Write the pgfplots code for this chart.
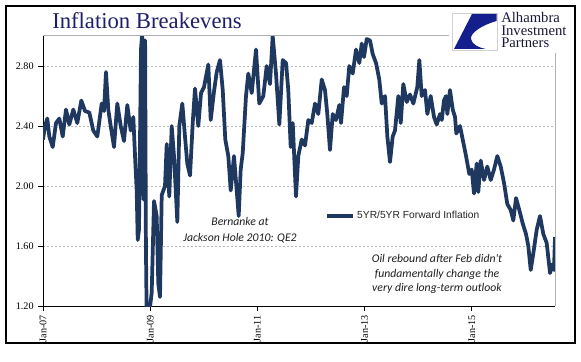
\documentclass[border=0pt]{standalone}
\usepackage{pgfplots}
\pgfplotsset{compat=1.18}
\usepackage{fontspec}
\setmainfont{Liberation Serif}
\newfontfamily\sansf{Liberation Sans}
\newfontfamily\carl{Carlito}
\definecolor{navyline}{RGB}{31,56,96}
\definecolor{titlecol}{RGB}{30,30,105}
\definecolor{logocol}{RGB}{25,25,55}
\definecolor{logoblue}{RGB}{20,30,140}
\pgfplotstableread{
x y
0.000 2.31
0.037 2.40
0.080 2.45
0.118 2.33
0.181 2.26
0.243 2.42
0.304 2.45
0.368 2.33
0.429 2.51
0.491 2.41
0.565 2.51
0.640 2.42
0.715 2.57
0.784 2.50
0.864 2.49
0.938 2.37
1.013 2.33
1.095 2.55
1.138 2.50
1.175 2.76
1.218 2.51
1.263 2.40
1.325 2.26
1.386 2.55
1.450 2.40
1.511 2.30
1.573 2.54
1.636 2.37
1.685 2.46
1.722 2.16
1.748 1.97
1.767 1.64
1.791 1.71
1.810 2.31
1.828 2.91
1.847 3.00
1.862 2.97
1.875 1.91
1.890 2.96
1.905 2.97
1.920 1.60
1.935 1.10
1.965 1.10
1.983 1.15
2.028 1.29
2.071 1.90
2.121 1.80
2.151 1.35
2.183 1.26
2.215 1.94
2.276 2.00
2.308 2.28
2.356 1.93
2.401 2.40
2.444 2.20
2.506 1.76
2.543 2.40
2.599 2.55
2.649 2.33
2.692 2.15
2.743 2.07
2.793 2.42
2.836 2.65
2.897 2.40
2.948 2.62
3.004 2.66
3.084 2.81
3.129 2.44
3.190 2.63
3.241 2.76
3.302 2.84
3.353 2.64
3.401 2.31
3.457 2.20
3.502 1.97
3.563 2.20
3.614 1.97
3.651 1.80
3.688 2.11
3.726 2.22
3.787 2.60
3.830 2.75
3.894 2.62
3.974 2.91
4.035 2.55
4.110 2.60
4.173 2.80
4.235 2.68
4.285 3.00
4.347 2.75
4.409 2.41
4.472 2.84
4.534 2.82
4.576 2.64
4.621 2.26
4.659 2.42
4.720 1.93
4.763 2.20
4.826 2.31
4.888 2.27
4.950 2.44
5.013 2.42
5.075 2.55
5.136 2.48
5.200 2.71
5.261 2.64
5.304 2.48
5.354 2.24
5.405 2.48
5.466 2.44
5.528 2.54
5.560 2.42
5.616 2.66
5.666 2.60
5.714 2.80
5.778 2.75
5.840 2.91
5.901 2.82
5.946 2.95
5.989 2.86
6.039 2.98
6.101 2.97
6.151 2.88
6.213 2.82
6.274 2.71
6.319 2.55
6.381 2.60
6.424 2.33
6.474 2.16
6.524 2.33
6.567 2.37
6.629 2.60
6.674 2.42
6.722 2.68
6.786 2.56
6.847 2.61
6.909 2.55
6.983 2.66
7.021 2.84
7.065 2.60
7.127 2.64
7.170 2.48
7.233 2.60
7.295 2.46
7.345 2.41
7.407 2.48
7.440 2.44
7.480 2.57
7.519 2.60
7.543 2.48
7.593 2.64
7.644 2.51
7.687 2.46
7.711 2.35
7.780 2.40
7.830 2.31
7.892 2.20
7.953 2.08
7.998 2.11
8.041 1.95
8.091 2.15
8.121 1.96
8.166 2.17
8.228 2.04
8.289 2.13
8.353 2.04
8.414 2.11
8.476 2.20
8.539 2.13
8.601 2.02
8.662 1.88
8.726 1.84
8.774 1.77
8.825 1.92
8.886 1.84
8.950 1.75
9.011 1.68
9.054 1.60
9.099 1.44
9.147 1.55
9.211 1.71
9.272 1.80
9.334 1.68
9.397 1.62
9.459 1.42
9.509 1.48
9.533 1.44
9.552 1.66
}\bei
\begin{document}
\begin{tikzpicture}[x=0.75pt,y=0.75pt]
\useasboundingbox (0,0) rectangle (581,361);
\fill[white] (0,0) rectangle (581,361);
\begin{axis}[
  at={(32.25pt,41.25pt)}, anchor=south west,
  scale only axis, width=384pt, height=203.25pt,
  xmin=0, xmax=9.552, ymin=1.2, ymax=3.007,
  axis x line*=bottom, axis y line*=left,
  axis line style={black, line width=0.75pt},
  tick align=outside, major tick length=3.5pt,
  tick style={black, line width=0.6pt},
  xtick={0,2,4,6,8},
  xticklabels={Jan-07,Jan-09,Jan-11,Jan-13,Jan-15},
  x tick label style={rotate=90, anchor=east, font=\fontsize{7.6}{9}\selectfont},
  ytick={1.2,1.6,2.0,2.4,2.8},
  y tick label style={/pgf/number format/fixed, /pgf/number format/fixed zerofill,
    /pgf/number format/precision=2, /pgf/number format/assume math mode=true,
    font=\fontsize{7.6}{9}\selectfont},
  ymajorgrids,
  major grid style={gray!55, line width=0.4pt, dash pattern=on 1.5pt off 1.5pt},
  legend style={draw=none, fill=none, at={(0.543,0.332)}, anchor=west,
    font=\sansf\fontsize{7.7}{9}\selectfont, text=black!85},
  legend image code/.code={\draw[line width=2.6pt, navyline] (0cm,0cm) -- (0.68cm,0cm);},
]
\addplot[navyline, line width=2.8pt, line join=round] table[x=x,y=y] {\bei};
\addlegendentry{5YR/5YR Forward Inflation}
\end{axis}
% plot area top/right border
\draw[gray!60, line width=0.6pt] (43,326) -- (555,326) -- (555,55);
% annotations
\node[font=\carl\itshape\fontsize{8.8}{11.6}\selectfont, align=center, text=black!88]
  at (240,131) {Bernanke at\\Jackson Hole 2010: QE2};
\node[font=\carl\itshape\fontsize{8.8}{11}\selectfont, align=center, text=black!88]
  at (437,87) {Oil rebound after Feb didn't\\fundamentally change the\\very dire long-term outlook};
% title
\node[anchor=base west, inner sep=0pt, font=\fontsize{17}{20}\selectfont, text=titlecol]
  at (52,332) {Inflation Breakevens};
% logo
\fill[white] (449,308) rectangle (574,354);
\draw[gray!35, line width=0.6pt] (452,311) rectangle (497,348);
\fill[logoblue] (454,312) -- (472,347) -- (496.5,347) -- (496.5,340)
  .. controls (482,336) and (470,328) .. (471,322)
  .. controls (472,316) and (480,313) .. (486,312) -- cycle;
\node[anchor=base west, inner sep=0pt, align=left, font=\fontsize{11}{9.4}\selectfont, text=logocol]
  at (501,313) {Alhambra\\Investment\\Partners};
% outer frame
\draw[black, line width=0.8pt] (6,18) rectangle (575,355);
\end{tikzpicture}
\end{document}
